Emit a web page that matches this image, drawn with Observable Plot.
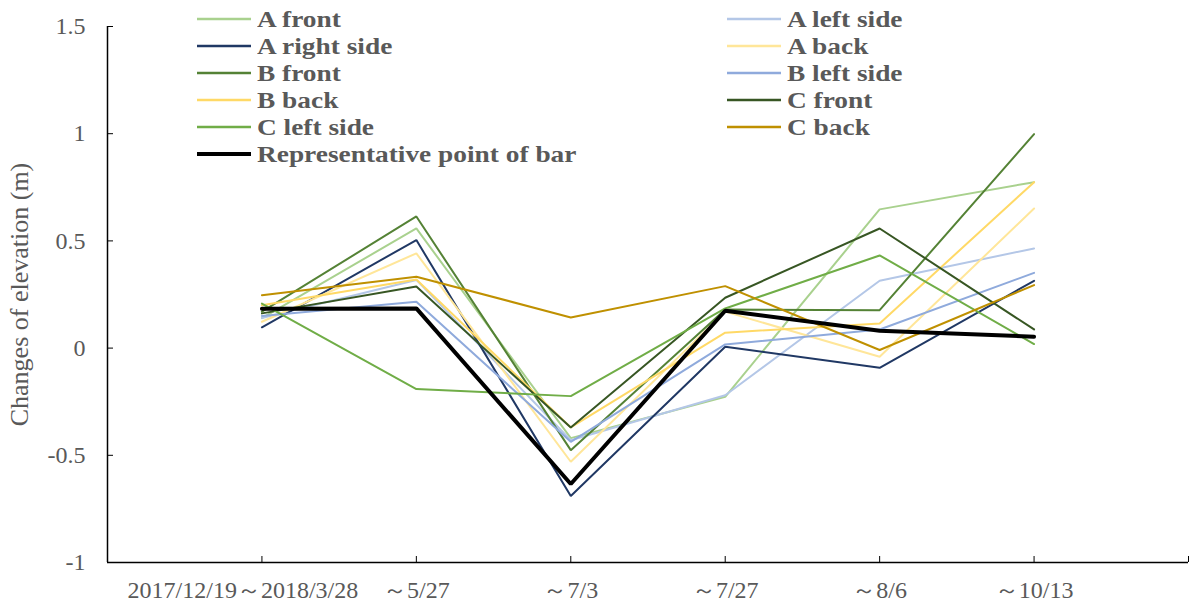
<!DOCTYPE html>
<html><head><meta charset="utf-8">
<script src="https://cdn.jsdelivr.net/npm/d3@7"></script>
<script src="https://cdn.jsdelivr.net/npm/@observablehq/plot@0.6"></script>
<style>
body{margin:0;background:#fff;}
#wrap{position:relative;width:1191px;height:608px;font-family:"Liberation Serif","Times New Roman",serif;}
#legend{position:absolute;left:197px;top:5px;display:grid;grid-template-columns:530px auto;grid-auto-rows:27px;font-weight:bold;font-size:24px;line-height:26px;color:#595959;}
.item{display:flex;align-items:center;white-space:nowrap;height:27px;}
.item span{display:inline-block;line-height:26px;transform:scaleX(1.14);transform-origin:left center;}
.item svg{margin-right:6px;}
</style></head><body><div id="wrap"><div id="legend"></div></div>
<script>
// Categories (x axis)
const periods = ["2017/12/19～2018/3/28", "～5/27", "～7/3", "～7/27", "～8/6", "～10/13"];
const yTicks = [-1, -0.5, 0, 0.5, 1, 1.5];

// Series names (legend order)
const seriesNames = ["A front", "A left side", "A right side", "A back", "B front", "B left side", "B back", "C front", "C left side", "C back", "Representative point of bar"];
const seriesColors = ["#a9d18e", "#b4c7e7", "#203864", "#ffe699", "#548235", "#8faadc", "#ffd966", "#375623", "#70ad47", "#bf9000", "#000000"];

// Values (m)
const aFront      = [0.14, 0.558, -0.42, -0.227, 0.647, 0.774];
const aLeftSide   = [0.14, 0.318, -0.43, -0.22, 0.314, 0.465];
const aRightSide  = [0.097, 0.504, -0.69, 0.006, -0.092, 0.314];
const aBack       = [0.123, 0.442, -0.53, 0.17, -0.04, 0.651];
const bFront      = [0.17, 0.614, -0.476, 0.18, 0.177, 0.998];
const bLeftSide   = [0.15, 0.216, -0.437, 0.017, 0.087, 0.351];
const bBack       = [0.2, 0.32, -0.37, 0.072, 0.115, 0.774];
const cFront      = [0.162, 0.287, -0.37, 0.235, 0.558, 0.087];
const cLeftSide   = [0.208, -0.191, -0.224, 0.185, 0.432, 0.019];
const cBack       = [0.247, 0.333, 0.143, 0.289, -0.009, 0.294];
const representative = [0.183, 0.185, -0.634, 0.174, 0.081, 0.053];

const seriesValues = [aFront, aLeftSide, aRightSide, aBack, bFront, bLeftSide, bBack, cFront, cLeftSide, cBack, representative];

const rows = [];
seriesNames.forEach((name, s) => {
  seriesValues[s].forEach((v, i) => rows.push({series: name, i: i + 1, v}));
});
const repName = seriesNames[seriesNames.length - 1];
const tickIdx = d3.range(0, periods.length + 2);

const chart = Plot.plot({
  width: 1191, height: 608,
  marginLeft: 107, marginRight: 3, marginTop: 26, marginBottom: 46,
  style: {fontFamily: "'Liberation Serif', 'Times New Roman', serif", fontSize: "24px", background: "white", color: "#595959"},
  x: {type: "linear", domain: [0, periods.length + 1]},
  y: {domain: [-1, 1.5]},
  color: {domain: seriesNames, range: seriesColors},
  marks: [
    Plot.axisX(tickIdx, {tickSize: -6, tickPadding: 24, tickFormat: i => i > 1 ? (periods[i - 1] ?? "") : "", stroke: "black", fill: "#595959", label: null}),
    Plot.axisX([1], {tickSize: 0, tickPadding: 18, dx: -19, tickFormat: i => periods[i - 1], fill: "#595959", label: null}),
    Plot.axisY(yTicks, {tickSize: -6, tickPadding: 28, tickFormat: d => String(d), stroke: "black", fill: "#595959", label: null}),
    Plot.axisY({ticks: [], tickSize: 0, label: "Changes of elevation (m)", labelAnchor: "center", labelOffset: 98, labelArrow: "none", fill: "#595959", fontSize: 26}),
    Plot.ruleX([0], {stroke: "black", strokeWidth: 1.5}),
    Plot.ruleY([-1], {stroke: "black", strokeWidth: 1.5}),
    Plot.line(rows.filter(d => d.series !== repName), {x: "i", y: "v", z: "series", stroke: "series", strokeWidth: 2, strokeLinejoin: "miter"}),
    Plot.line(rows.filter(d => d.series === repName), {x: "i", y: "v", stroke: "series", strokeWidth: 4, strokeLinejoin: "miter"})
  ]
});
document.getElementById("wrap").prepend(chart);

const legend = document.getElementById("legend");
seriesNames.forEach((name, s) => {
  const item = document.createElement("div");
  item.className = "item";
  const w = name === repName ? 4 : 2.5;
  item.innerHTML = `<svg width="54" height="8"><line x1="0" x2="54" y1="4" y2="4" stroke="${seriesColors[s]}" stroke-width="${w}"/></svg><span>${name}</span>`;
  legend.appendChild(item);
});
</script>
</body></html>
